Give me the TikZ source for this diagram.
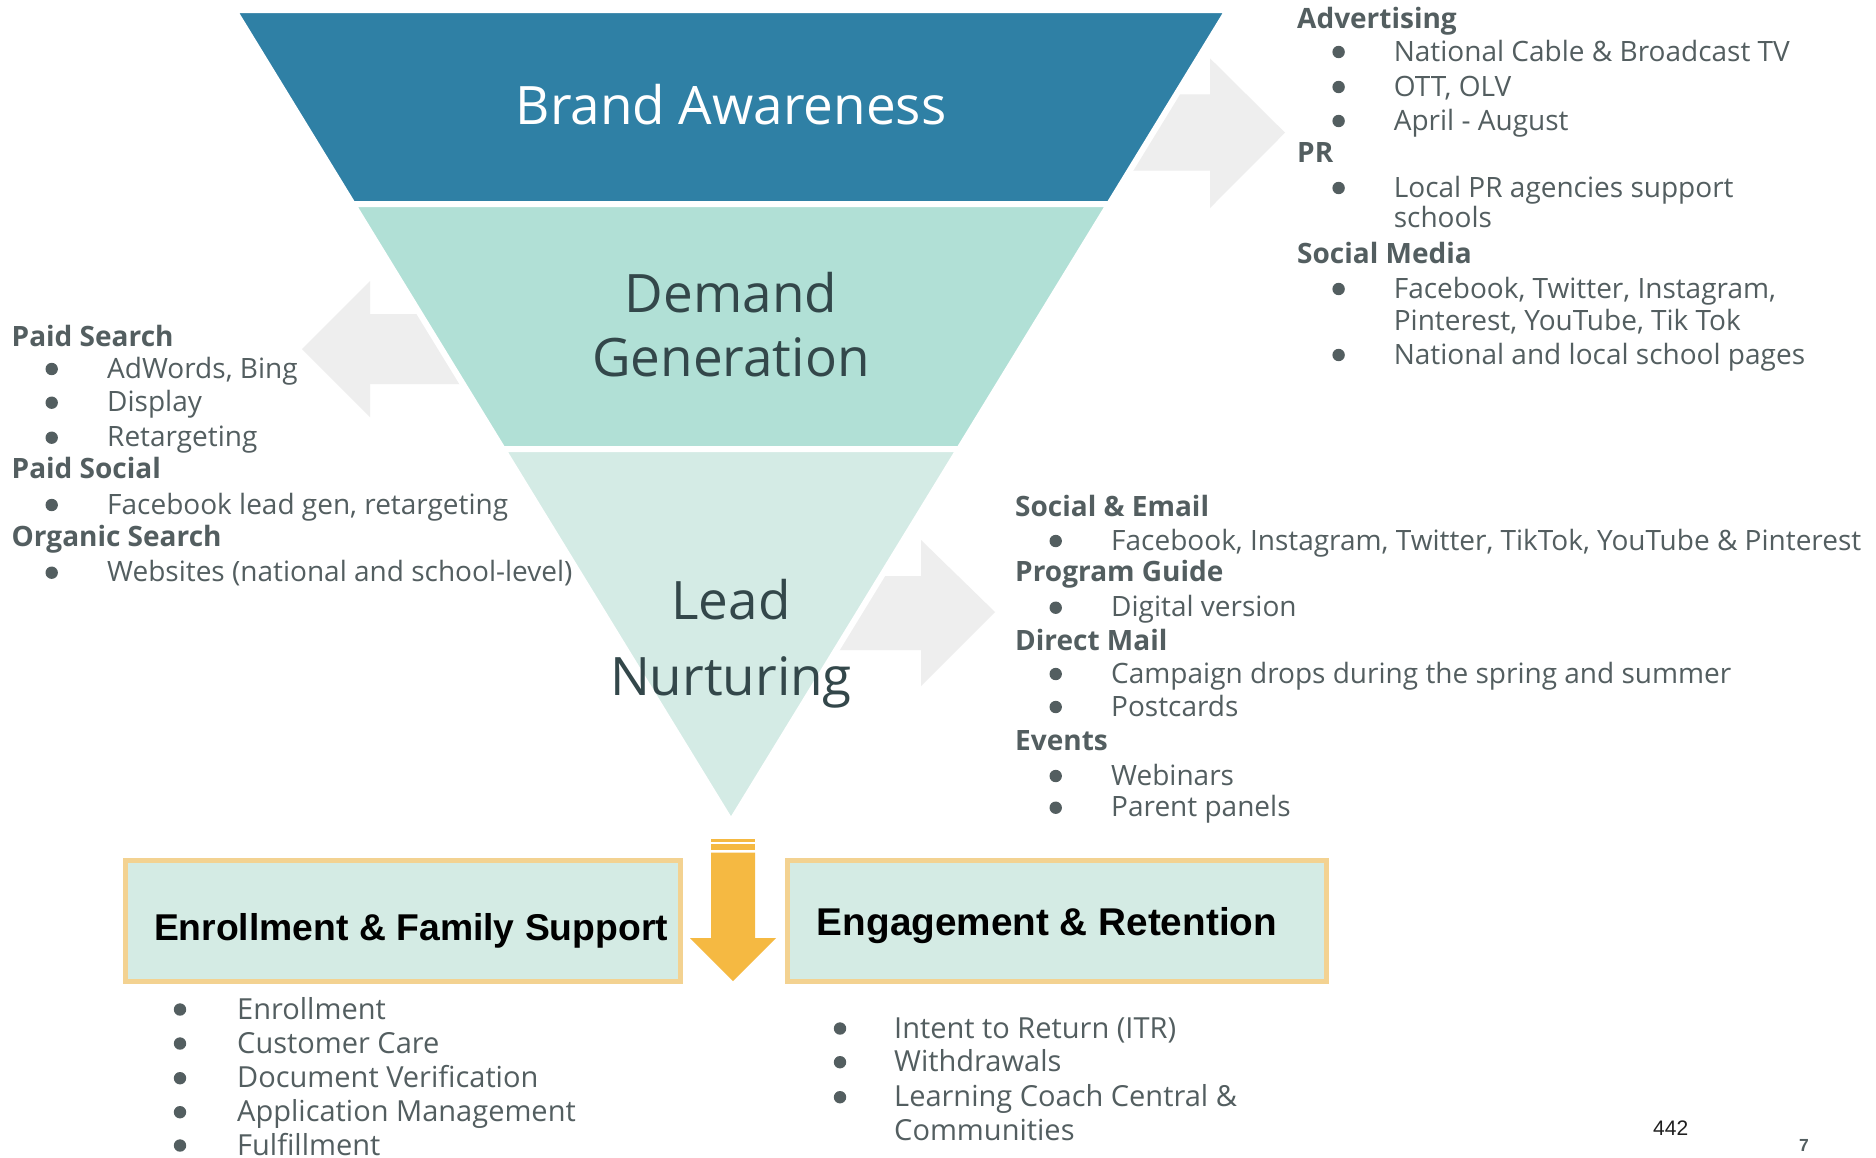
\documentclass[tikz,border=0pt]{standalone}
\usepackage{fontspec}
\setmainfont{Open Sans}
\newfontfamily\osr{Open Sans}
\newfontfamily\libsans{Liberation Sans}
\definecolor{bandA}{HTML}{2F80A5}
\definecolor{bandB}{HTML}{B1E0D6}
\definecolor{bandC}{HTML}{D4EBE5}
\definecolor{arrgrey}{HTML}{EEEEEE}
\definecolor{orng}{HTML}{F5B942}
\definecolor{boxfill}{HTML}{D4EBE4}
\definecolor{boxedge}{HTML}{F3D291}
\definecolor{txtc}{HTML}{535E60}
\definecolor{funtxt}{HTML}{33474A}
\newcommand\setfs[2]{\fontsize{#1}{#2}\selectfont}
\newcommand\lhead[4]{\node[lhd] (#1) at (#2,#3) {#4};}
\newcommand\litem[5]{\node[lit] (#1) at (#3,#4) {#5};\fill[txtc] (#2,#4-9) circle (6.2pt);}
\newcommand\bitem[5]{\node[bit] (#1) at (#3,#4) {#5};\fill[txtc] (#2,#4-9.5) circle (6.2pt);}
\newcommand\lcont[4]{\node[lit] (#1) at (#2,#3) {#4};}
\newcommand\bcont[4]{\node[bit] (#1) at (#2,#3) {#4};}
\begin{document}
\begin{tikzpicture}[x=1pt,y=-1pt,
  band/.style={draw=white,line width=6pt,line join=miter},
  greyarrow/.style={fill=arrgrey},
  funlabel/.style={font=\osr\setfs{53}{64},text=funtxt,anchor=base,inner sep=0,align=center},
  lhd/.style={anchor=base west,inner sep=0,font=\osr\bfseries\setfs{28}{34},text=txtc},
  lit/.style={anchor=base west,inner sep=0,font=\osr\setfs{28}{34},text=txtc},
  bit/.style={anchor=base west,inner sep=0,font=\osr\setfs{29}{34},text=txtc},
  stagebox/.style={fill=boxfill,draw=boxedge,line width=5pt},
  boxtitle/.style={anchor=base,inner sep=0,text=black},
]
\useasboundingbox (0,0) rectangle (1876,1157);
\fill[white] (0,0) rectangle (1876,1157);

% grey arrows (behind funnel)
\fill[greyarrow] (1100,94.3) -- (1210,94.3) -- (1210,58.3) -- (1285,132.7) -- (1210,208) -- (1210,170.7) -- (1100,170.7) -- cycle;
\fill[greyarrow] (480,314) -- (370,314) -- (370,281) -- (302,349) -- (370,417) -- (370,384) -- (480,384) -- cycle;
\fill[greyarrow] (820,576) -- (921,576) -- (921,540) -- (995,612) -- (921,686) -- (921,650) -- (820,650) -- cycle;

% funnel bands
\filldraw[band,fill=bandA] (234,10) -- (1228,10) -- (1109.3,204) -- (352.7,204) -- cycle;
\filldraw[band,fill=bandB] (352.7,204) -- (1109.3,204) -- (959.3,449) -- (502.7,449) -- cycle;
\filldraw[band,fill=bandC] (502.7,449) -- (959.3,449) -- (731,822) -- cycle;

\node[funlabel,text=white] (brand) at (731,124) {Brand Awareness};
\node[funlabel] (demand1) at (731,312) {Demand};
\node[funlabel] (demand2) at (731,376) {Generation};
\node[funlabel] (lead1) at (731,619) {Lead};
\node[funlabel] (lead2) at (731,695) {Nurturing};

% orange down arrow
\fill[orng] (711,839) rectangle (755,842);
\fill[orng] (711,844.3) rectangle (755,850);
\fill[orng] (711,852.7) -- (755,852.7) -- (755,938) -- (776,938) -- (733,981) -- (690,938) -- (711,938) -- cycle;

% stage boxes
\draw[stagebox] (125.5,860.5) rectangle (680.5,981.5);
\draw[stagebox] (787.5,860.5) rectangle (1326.5,981.5);
\node[boxtitle,font=\libsans\bfseries\setfs{37.3}{40}] (enroll) at (411,940) {Enrollment \& Family Support};
\node[boxtitle,font=\libsans\bfseries\setfs{38.7}{40}] (engage) at (1047,935) {Engagement \& Retention};

% top-right list
\lhead{adv}{1297}{28}{Advertising}
\litem{adv1}{1338.6}{1393.6}{61}{National Cable \& Broadcast TV}
\litem{adv2}{1338.6}{1393.6}{96}{OTT, OLV}
\litem{adv3}{1338.6}{1393.6}{130}{April - August}
\lhead{pr}{1297}{162}{PR}
\litem{pr1}{1338.6}{1393.6}{197}{Local PR agencies support}
\lcont{pr1b}{1393.6}{227}{schools}
\lhead{sm}{1297}{263}{Social Media}
\litem{sm1}{1338.6}{1393.6}{298}{Facebook, Twitter, Instagram,}
\lcont{sm1b}{1393.6}{330}{Pinterest, YouTube, Tik Tok}
\litem{sm2}{1338.6}{1393.6}{364}{National and local school pages}

% left list
\lhead{ps}{11.5}{346}{Paid Search}
\litem{ps1}{51.7}{107}{378}{AdWords, Bing}
\litem{ps2}{51.7}{107}{411.7}{Display}
\litem{ps3}{51.7}{107}{446.7}{Retargeting}
\lhead{psoc}{11.5}{478}{Paid Social}
\litem{psoc1}{51.7}{107}{514}{Facebook lead gen, retargeting}
\lhead{os}{11.5}{546}{Organic Search}
\litem{os1}{51.7}{107}{581.7}{Websites (national and school-level)}

% middle-right list
\lhead{se}{1015}{516.7}{Social \& Email}
\litem{se1}{1055.7}{1111}{550}{Facebook, Instagram, Twitter, TikTok, YouTube \& Pinterest}
\lhead{pg}{1015}{581.7}{Program Guide}
\litem{pg1}{1055.7}{1111}{616.7}{Digital version}
\lhead{dm}{1015}{650}{Direct Mail}
\litem{dm1}{1055.7}{1111}{683}{Campaign drops during the spring and summer}
\litem{dm2}{1055.7}{1111}{716}{Postcards}
\lhead{ev}{1015}{750}{Events}
\litem{ev1}{1055.7}{1111}{785}{Webinars}
\litem{ev2}{1055.7}{1111}{816.7}{Parent panels}

% bottom-left list
\bitem{en1}{180}{237}{1019}{Enrollment}
\bitem{en2}{180}{237}{1053}{Customer Care}
\bitem{en3}{180}{237}{1087.7}{Document Verification}
\bitem{en4}{180}{237}{1121.7}{Application Management}
\bitem{en5}{180}{237}{1155}{Fulfillment}

% bottom-right list
\bitem{er1}{840}{894}{1038}{Intent to Return (ITR)}
\bitem{er2}{840}{894}{1071.7}{Withdrawals}
\bitem{er3}{840}{894}{1106.7}{Learning Coach Central \&}
\bcont{er3b}{894}{1140.7}{Communities}

% page numbers
\node[anchor=base west,inner sep=0,font=\libsans\setfs{21}{24},text=black!88] (num442) at (1653,1135) {442};
\node[anchor=base west,inner sep=0,font=\libsans\bfseries\setfs{17.5}{20},text=txtc] (num7) at (1799,1151) {7};
\end{tikzpicture}
\end{document}
